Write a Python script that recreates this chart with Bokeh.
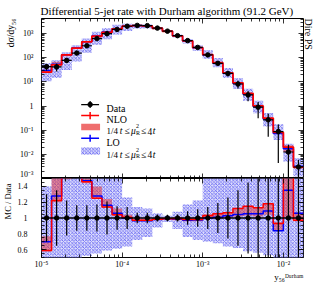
import math
from bokeh.plotting import figure
from bokeh.models import Range1d, LogAxis, LinearAxis, FixedTicker, Label, Span, Title
from bokeh.layouts import column
from bokeh.embed import file_html
from bokeh.resources import INLINE

# ---------------- data ----------------
bin_edges = [1.000e-5, 1.334e-5, 1.778e-5, 2.371e-5, 3.162e-5, 4.217e-5, 5.623e-5, 7.499e-5,
             1.000e-4, 1.334e-4, 1.778e-4, 2.371e-4, 3.162e-4, 4.217e-4, 5.623e-4, 7.499e-4,
             1.000e-3, 1.334e-3, 1.778e-3, 2.371e-3, 3.162e-3, 4.217e-3, 5.623e-3, 7.499e-3,
             1.000e-2, 1.334e-2, 1.778e-2]
data = [43, 42, 78, 157, 315, 625, 1000, 1500, 2030, 2200, 2150, 1700, 1270,
        825, 515, 270, 132, 59, 22.5, 8.2, 2.9, 0.9, 0.27, 0.088, 0.0125, 0.003]
data_rel_err = [0.30, 0.35, 0.22, 0.16, 0.16, 0.17, 0.21, 0.15, 0.14, 0.065, 0.065, 0.045, 0.04,
                0.045, 0.085, 0.11, 0.14, 0.19, 0.26, 0.35, 0.45, 0.65, 0.80, 0.95, 1.0, 0.98]
nlo_ratio = [0.59, 1.22, 1.70, 1.60, 1.46, 1.25, 1.14, 1.04, 1.01, 0.97, 0.97, 0.985, 0.99,
             0.99, 0.98, 0.98, 1.03, 1.055, 1.065, 1.12, 1.15, 1.13, 1.18, 0.93, 1.60, 0.97]
nlo_band_lo = [0.575, 1.20, 1.49, 1.52, 1.44, 1.24, 1.13, 1.03, 0.99, 0.96, 0.96, 0.97, 0.98,
               0.97, 0.96, 0.96, 0.99, 0.99, 1.00, 1.02, 1.03, 1.02, 1.04, 0.84, 1.00, 0.96]
nlo_band_hi = [0.77, 1.65, 1.85, 1.75, 1.50, 1.40, 1.24, 1.12, 1.04, 0.99, 0.99, 1.00, 1.00,
               1.01, 1.00, 1.01, 1.05, 1.06, 1.07, 1.12, 1.15, 1.14, 1.18, 0.945, 1.90, 1.07]
lo_ratio = [0.70, 1.28, 1.72, 1.63, 1.47, 1.28, 1.16, 1.06, 1.00, 0.965, 0.965, 0.98, 0.99,
            0.985, 0.97, 0.975, 1.00, 1.01, 1.03, 1.045, 1.055, 1.055, 1.09, 0.84, 1.35, 1.06]
lo_band_lo = [0.25, 0.35, 0.40, 0.45, 0.52, 0.55, 0.59, 0.61, 0.64, 0.72, 0.76, 0.88, 0.95,
              0.86, 0.76, 0.72, 0.70, 0.68, 0.64, 0.62, 0.58, 0.56, 0.53, 0.45, 0.40, 0.40]
lo_band_hi = [1.40, 1.90, 2.20, 2.10, 2.00, 1.90, 1.70, 1.55, 1.26, 1.14, 1.12, 1.06, 1.03,
              1.08, 1.17, 1.22, 1.55, 1.65, 1.70, 1.75, 1.80, 1.85, 1.90, 2.00, 2.20, 2.30]

x_major = [1e-5, 1e-4, 1e-3, 1e-2]
x_labels = ["10\u207b\u2075", "10\u207b\u2074", "10\u207b\u00b3", "10\u207b\u00b2"]
y_major = [1e-3, 1e-2, 1e-1, 1, 10, 100, 1000]
y_labels = ["10\u207b\u00b3", "10\u207b\u00b2", "10\u207b\u00b9", "1", "10\u00b9", "10\u00b2", "10\u00b3"]
r_major = [0.6, 0.8, 1.0, 1.2, 1.4]
r_labels = ["0.6", "0.8", "1", "1.2", "1.4"]

# ---------------- derived ----------------
x_lo = bin_edges[:-1]
x_hi = bin_edges[1:]
x_mid = [math.sqrt(a * b) for a, b in zip(x_lo, x_hi)]
nlo = [d * r for d, r in zip(data, nlo_ratio)]
lo = [d * r for d, r in zip(data, lo_ratio)]
err_top = [d * (1 + e) for d, e in zip(data, data_rel_err)]
err_bot = [max(d * (1 - e), 1e-6) for d, e in zip(data, data_rel_err)]

XMIN, XMAX = 1e-5, 10 ** -1.75
YMIN, YMAX = 1e-3, 10 ** 3.628
FONT = "Liberation Serif"
RED, BLUE = "#ff0000", "#0000ff"
BAND_RED = "#e83030"
HATCH = "#3a3af0"
HFILL = "#c4c4fa"

x_minor = [m * 10 ** e for e in range(-5, -1) for m in range(2, 10) if m * 10 ** e < XMAX]
y_minor = [m * 10 ** e for e in range(-3, 4) for m in range(2, 10) if m * 10 ** e < YMAX]
r_minor = [0.5 + 0.05 * i for i in range(21)]


def style_axis(ax, show, size="8px", standoff=4):
    ax.axis_line_color = None
    ax.major_tick_in = 5
    ax.major_tick_out = 0
    ax.minor_tick_in = 3
    ax.minor_tick_out = 0
    ax.major_tick_line_color = "black"
    ax.minor_tick_line_color = "black"
    ax.major_tick_line_width = 0.8
    ax.minor_tick_line_width = 0.8
    if show:
        ax.major_label_text_font = FONT
        ax.major_label_text_font_size = size
        ax.major_label_standoff = standoff
        ax.major_label_text_color = "black"
    else:
        ax.major_label_text_font_size = "1px"
        ax.major_label_text_color = None
        ax.major_label_standoff = 0


def step_xy(vals):
    xs, ys = [], []
    for a, b, v in zip(x_lo, x_hi, vals):
        xs += [a, b]
        ys += [v, v]
    return xs, ys


def label(fig, X, Y, text, ybase, size="9.5px", style="normal"):
    fig.add_layout(Label(x=X - 39, y=ybase - Y, x_units="screen", y_units="screen",
                         text=text, text_font=FONT, text_font_size=size, text_align="left",
                         text_baseline="alphabetic", text_font_style=style, text_color="black"))


def title(fig, text, side, size, align="left", valign="middle", standoff=0, offset=0):
    fig.add_layout(Title(text=text, align=align, vertical_align=valign, standoff=standoff,
                         offset=offset, text_font=FONT, text_font_size=size,
                         text_font_style="normal", text_color="black"), side)


def band(fig, bottom, top):
    fig.quad(left=x_lo, right=x_hi, bottom=bottom, top=top,
             fill_color=HFILL, fill_alpha=0.55, line_color=None,
             hatch_pattern="x", hatch_color=HATCH, hatch_scale=3.5, hatch_weight=0.8,
             hatch_alpha=0.8)


xr = Range1d(XMIN, XMAX)

# ---------------- main panel ----------------
p = figure(width=313, height=178, x_axis_type="log", y_axis_type="log", x_range=xr,
           y_range=Range1d(YMIN, YMAX), x_axis_location=None, y_axis_location=None,
           min_border_left=39, min_border_right=10, min_border_top=18, min_border_bottom=0,
           output_backend="svg", toolbar_location=None)
p.xgrid.visible = False
p.ygrid.visible = False
p.outline_line_color = "black"
p.outline_line_width = 1
p.background_fill_color = "white"
p.border_fill_color = "white"

yl = LogAxis(ticker=FixedTicker(ticks=y_major, minor_ticks=y_minor),
             major_label_overrides=dict(zip(y_major, y_labels)))
style_axis(yl, True, "8px", 8)
p.add_layout(yl, "left")
yr_ax = LogAxis(ticker=FixedTicker(ticks=y_major, minor_ticks=y_minor))
style_axis(yr_ax, False)
p.add_layout(yr_ax, "right")
for loc in ("below", "above"):
    ax = LogAxis(ticker=FixedTicker(ticks=x_major, minor_ticks=x_minor))
    style_axis(ax, False)
    p.add_layout(ax, loc)

band(p, [d * r for d, r in zip(data, lo_band_lo)], [d * r for d, r in zip(data, lo_band_hi)])
p.quad(left=x_lo, right=x_hi,
       bottom=[d * r for d, r in zip(data, nlo_band_lo)],
       top=[d * r for d, r in zip(data, nlo_band_hi)],
       fill_color=BAND_RED, fill_alpha=0.5, line_color=None)
sx, sy = step_xy(lo)
p.line(sx, sy, line_color=BLUE, line_width=1.5)
sx, sy = step_xy(nlo)
p.line(sx, sy, line_color=RED, line_width=1.8)
p.segment(x0=x_lo, x1=x_hi, y0=data, y1=data, line_color="black", line_width=1.2)
p.segment(x0=x_mid, x1=x_mid, y0=err_bot, y1=err_top, line_color="black", line_width=1.2)
p.scatter(x_mid, data, size=4.5, marker="circle", fill_color="black", line_color="black")


# legend (screen position -> data coordinates of main panel)
def X2x(X):
    return 10 ** (-5 + (X - 39) * 3.25 / 264)


def Y2y(Y):
    return 10 ** (3.628 - (Y - 18) * 6.628 / 159)


def leg_line(Yc, color, width, dot=False):
    p.line([X2x(79), X2x(97)], [Y2y(Yc), Y2y(Yc)], line_color=color, line_width=width)
    p.line([X2x(88), X2x(88)], [Y2y(Yc - 3.5), Y2y(Yc + 3.5)], line_color=color, line_width=width)
    if dot:
        p.scatter([X2x(88)], [Y2y(Yc)], size=4.5, marker="circle", fill_color=color, line_color=color)


leg_line(103.5, "black", 1.2, dot=True)
leg_line(114.5, RED, 1.5)
p.quad(left=[X2x(79)], right=[X2x(98)], top=[Y2y(122.5)], bottom=[Y2y(129)],
       fill_color=BAND_RED, fill_alpha=0.7, line_color=None)
leg_line(137, BLUE, 1.5)
p.quad(left=[X2x(79)], right=[X2x(98)], top=[Y2y(146)], bottom=[Y2y(153.5)],
       fill_color=HFILL, fill_alpha=0.55, line_color=None,
       hatch_pattern="x", hatch_color=HATCH, hatch_scale=3.5, hatch_weight=0.8, hatch_alpha=0.8)

label(p, 104, 107, "Data", 177, "10px")
label(p, 104, 118, "NLO", 177, "10px")
label(p, 104, 140.5, "LO", 177, "10px")
for base in (129.5, 153):
    label(p, 104.0, base, "1/4", 177, "9px")
    label(p, 117.3, base, "t", 177, "9.5px", style="italic")
    label(p, 122.0, base, "\u2264", 177, "9.5px")
    label(p, 128.5, base, "\u03bc", 177, "9.5px", style="italic")
    label(p, 133.4, base - 5.0, "2", 177, "6px")
    label(p, 133.4, base + 1.5, "R", 177, "6px")
    label(p, 138.4, base, "\u2264", 177, "9.5px")
    label(p, 145.0, base, "4", 177, "9.5px")
    label(p, 150.2, base, "t", 177, "9.5px", style="italic")

# titles outside the frame
title(p, "Differential 5-jet rate with Durham algorithm (91.2 GeV)", "above", "11px",
      align="left", valign="middle", standoff=1, offset=-1)
title(p, "d\u03c3/dy\u2085\u2086", "left", "9.5px", align="right", valign="middle", standoff=2)
title(p, "Dire PS", "right", "10px", align="left", valign="middle", standoff=-4.5)

# ---------------- ratio panel ----------------
r = figure(width=313, height=105, x_axis_type="log", x_range=xr, y_range=Range1d(0.5, 1.5),
           x_axis_location=None, y_axis_location=None,
           min_border_left=39, min_border_right=10, min_border_top=0, min_border_bottom=26,
           output_backend="svg", toolbar_location=None)
r.xgrid.visible = False
r.ygrid.visible = False
r.outline_line_color = "black"
r.outline_line_width = 1
r.background_fill_color = "white"
r.border_fill_color = "white"

ryl = LinearAxis(ticker=FixedTicker(ticks=r_major, minor_ticks=r_minor),
                 major_label_overrides=dict(zip(r_major, r_labels)))
style_axis(ryl, True, "8px", 14)
r.add_layout(ryl, "left")
ryr = LinearAxis(ticker=FixedTicker(ticks=r_major, minor_ticks=r_minor))
style_axis(ryr, False)
r.add_layout(ryr, "right")
rxb = LogAxis(ticker=FixedTicker(ticks=x_major, minor_ticks=x_minor),
              major_label_overrides=dict(zip(x_major, x_labels)))
style_axis(rxb, True, "8px", 2)
r.add_layout(rxb, "below")
rxa = LogAxis(ticker=FixedTicker(ticks=x_major, minor_ticks=x_minor))
style_axis(rxa, False)
r.add_layout(rxa, "above")

band(r, lo_band_lo, lo_band_hi)
r.quad(left=x_lo, right=x_hi, bottom=nlo_band_lo, top=nlo_band_hi,
       fill_color=BAND_RED, fill_alpha=0.5, line_color=None)
r.add_layout(Span(location=1, dimension="width", line_color="black", line_width=1.5, level="glyph"))
sx, sy = step_xy(lo_ratio)
r.line(sx, sy, line_color=BLUE, line_width=1.5)
sx, sy = step_xy(nlo_ratio)
r.line(sx, sy, line_color=RED, line_width=1.5)
ones = [1.0] * len(data)
r.segment(x0=x_mid, x1=x_mid, y0=[1 - e for e in data_rel_err], y1=[1 + e for e in data_rel_err],
          line_color="black", line_width=1.2)
r.scatter(x_mid, ones, size=4.5, marker="circle", fill_color="black", line_color="black")

title(r, "MC / Data", "left", "8.5px", align="right", valign="middle", standoff=2, offset=5)
title(r, "y\u2085\u2086\u1d30\u1d58\u02b3\u02b0\u1d43\u1d50", "below", "9px",
      align="right", valign="top", standoff=0)

layout = column(p, r, spacing=0)
open("out.html", "w").write(file_html(layout, INLINE))
